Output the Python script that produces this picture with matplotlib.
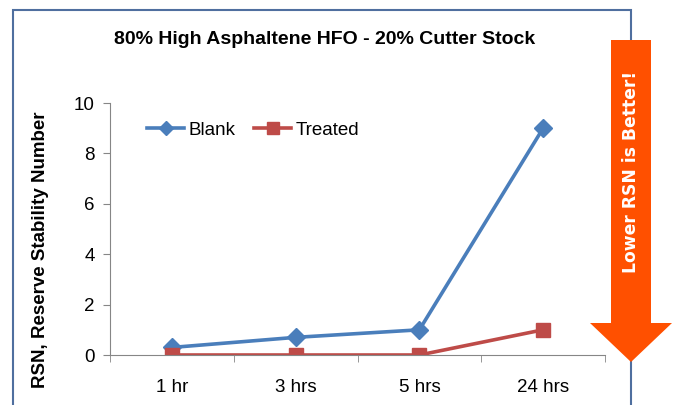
"""
RSN over time: blank vs treated blend, with a 'lower is better' arrow.
"""

import matplotlib
matplotlib.use("Agg")
import matplotlib.pyplot as plt
import matplotlib.patches as mpatches
import numpy as np

categories = ["1 hr", "3 hrs", "5 hrs", "24 hrs"]
blank = [0.3, 0.7, 1.0, 9.0]
treated = [0.0, 0.0, 0.0, 1.0]
y_ticks = [0, 2, 4, 6, 8, 10]

COLOR_BLANK = "#4A7EBB"
COLOR_TREATED = "#BE4B48"
COLOR_AXIS = "#868686"
COLOR_ARROW = "#FF5000"
COLOR_FRAME = "#4F6F9F"

plt.rcParams["font.family"] = ["Liberation Sans", "DejaVu Sans"]

fig = plt.figure(figsize=(6.78, 4.05), dpi=100, facecolor="white")
W, H = 678, 405

# outer chart frame (bottom is cut off in the original)
frame = mpatches.Rectangle((13 / W, -0.05), (631 - 13) / W, 1.05 - 10 / H, transform=fig.transFigure,
                           fill=False, edgecolor=COLOR_FRAME, linewidth=1.5)
fig.patches.append(frame)

ax = fig.add_axes([110 / W, 1 - 355 / H, (605 - 110) / W, (355 - 103) / H])
x = np.arange(len(categories))
ax.plot(x, blank, color=COLOR_BLANK, linewidth=2.6, marker="D", markersize=9, label="Blank")
ax.plot(x, treated, color=COLOR_TREATED, linewidth=2.6, marker="s", markersize=10, label="Treated")

ax.set_xlim(-0.5, len(categories) - 0.5)
ax.set_ylim(0, 10)
ax.set_yticks(y_ticks)
ax.set_xticks(x)
ax.set_xticklabels(categories)
ax.set_xticks(np.arange(len(categories) + 1) - 0.5, minor=True)
ax.tick_params(axis="x", which="major", length=0, pad=17, labelsize=13.5)
ax.tick_params(axis="x", which="minor", length=5, color=COLOR_AXIS, direction="out")
ax.tick_params(axis="y", length=5, color=COLOR_AXIS, labelsize=13.5, pad=6)
for s in ["top", "right"]:
    ax.spines[s].set_visible(False)
for s in ["left", "bottom"]:
    ax.spines[s].set_color(COLOR_AXIS)
ax.set_ylabel("RSN, Reserve Stability Number", fontsize=13.5, fontweight="bold")
ax.yaxis.set_label_coords(-(110 - 49) / (605 - 110), (355 - 250) / (355 - 103))

ax.legend(loc="center left", bbox_to_anchor=((130 - 110) / (605 - 110), (355 - 130) / (355 - 103)),
          ncol=2, frameon=False, fontsize=13.5, handlelength=2.0, columnspacing=1.0,
          handletextpad=0.2, markerscale=0.8)

fig.text(325 / W, 1 - 40 / H, "80% High Asphaltene HFO - 20% Cutter Stock",
         ha="center", va="center", fontsize=14, fontweight="bold")

# orange arrow
pts = [(611, 40), (651, 40), (651, 323), (672, 323), (631, 362), (590, 323), (611, 323)]
arrow = mpatches.Polygon([(px / W, 1 - py / H) for px, py in pts], closed=True,
                         transform=fig.transFigure, facecolor=COLOR_ARROW, edgecolor="none")
fig.patches.append(arrow)
fig.text(631 / W, 1 - 172 / H, "Lower RSN is Better!", rotation=90, ha="center", va="center",
         color="white", fontsize=12.3, fontweight="bold", family="DejaVu Sans")

plt.savefig("out.png", dpi=100, facecolor="white")
